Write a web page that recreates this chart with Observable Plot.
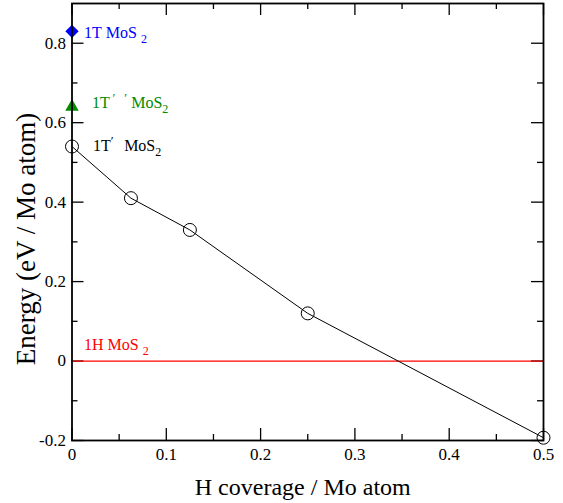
<!DOCTYPE html>
<html>
<head>
<meta charset="utf-8">
<script src="https://cdn.jsdelivr.net/npm/d3@7"></script>
<script src="https://cdn.jsdelivr.net/npm/@observablehq/plot@0.6"></script>
<style>
  html, body { margin: 0; padding: 0; background: #fff; }
  svg { display: block; }
</style>
</head>
<body>
<div id="chart"></div>
<script>
// ---- data ----
const coverage = [0, 0.0625, 0.125, 0.25, 0.5];
const energy = [0.54, 0.41, 0.33, 0.12, -0.193];

const phaseNames = ["1T", "1T''", "1T'", "1H"];
const phaseEnergy = [0.83, 0.64, 0.54, 0];
const phaseLabels = ["1T MoS _{2}", "1T^{\u2009′\u2002\u2009′} MoS_{2}", "1T^{′  } MoS_{2}", "1H MoS _{2}"];
const phaseColors = ["#0000ff", "#008b00", "#000000", "#ff0000"];

const xTicks = [0, 0.1, 0.2, 0.3, 0.4, 0.5];
const xMinor = [0.05, 0.15, 0.25, 0.35, 0.45];
const yTicks = [-0.2, 0, 0.2, 0.4, 0.6, 0.8];
const yMinor = [-0.1, 0.1, 0.3, 0.5, 0.7];
const xTitle = "H coverage / Mo atom";
const yTitle = "Energy (eV / Mo atom)";

// ---- layout ----
const W = 563, H = 503;
const mL = 71.5, mR = 20, mT = 3, mB = 63;
const pw = W - mL - mR, ph = H - mT - mB;
const major = 12, minor = 6;

const curve = coverage.map((c, i) => ({x: c, y: energy[i]}));
const phases = phaseNames.map((n, i) => ({name: n, y: phaseEnergy[i], label: phaseLabels[i], color: phaseColors[i]}));
const fmt = d => String(d);

const labelOffsets = {
  "1T": {dx: 12, dy: 1.5},
  "1T''": {dx: 20, dy: -4},
  "1T'": {dx: 21, dy: -1},
  "1H": {dx: 12, dy: -16.5}
};

const marks = [
  // ticks, inward, on all four sides
  Plot.tickY(yTicks, {y: d => d, insetRight: pw - major, strokeWidth: 1.3}),
  Plot.tickY(yMinor, {y: d => d, insetRight: pw - minor, strokeWidth: 1.3}),
  Plot.tickY(yTicks, {y: d => d, insetLeft: pw - major, strokeWidth: 1.3}),
  Plot.tickY(yMinor, {y: d => d, insetLeft: pw - minor, strokeWidth: 1.3}),
  Plot.tickX(xTicks, {x: d => d, insetTop: ph - major, strokeWidth: 1.3}),
  Plot.tickX(xMinor, {x: d => d, insetTop: ph - minor, strokeWidth: 1.3}),
  Plot.tickX(xTicks, {x: d => d, insetBottom: ph - major, strokeWidth: 1.3}),
  Plot.tickX(xMinor, {x: d => d, insetBottom: ph - minor, strokeWidth: 1.3}),
  Plot.axisX({ticks: xTicks, tickSize: 0, tickPadding: 7, fontSize: 17, tickFormat: fmt, label: null}),
  Plot.axisY({ticks: yTicks, tickSize: 0, tickPadding: 6, fontSize: 17, tickFormat: fmt, label: null}),
  // 1H reference line
  Plot.ruleY([phases[3]], {y: "y", stroke: "color", strokeWidth: 1.2}),
  // curve
  Plot.line(curve, {x: "x", y: "y", stroke: "#000", strokeWidth: 1}),
  Plot.dot(curve, {x: "x", y: "y", r: 6.5, stroke: "#000", strokeWidth: 1, fill: "none"}),
  Plot.dot([phases[0]], {x: () => 0, y: "y", symbol: "diamond2", r: 6, fill: "color", stroke: "none"}),
  Plot.dot([phases[1]], {x: () => 0, y: "y", symbol: "triangle", r: 5, fill: "color", stroke: "none"}),
  ...phases.map(p => Plot.text([p], {
    x: () => 0, y: "y", text: "label", fill: "color",
    textAnchor: "start", lineAnchor: "middle", fontSize: 16,
    dx: labelOffsets[p.name].dx, dy: labelOffsets[p.name].dy,
    className: "lbl"
  })),
  Plot.frame({stroke: "#000", strokeWidth: 1.8}),
  Plot.text([xTitle], {frameAnchor: "bottom", textAnchor: "middle", dy: 47, dx: -5, fontSize: 24, lineAnchor: "middle"}),
  Plot.text([yTitle], {frameAnchor: "left", textAnchor: "middle", rotate: -90, dx: -45.5, dy: 17, fontSize: 27, lineAnchor: "middle"})
];

const chart = Plot.plot({
  width: W, height: H,
  marginLeft: mL, marginRight: mR, marginTop: mT, marginBottom: mB,
  x: {domain: [0, 0.5]},
  y: {domain: [-0.2, 0.9]},
  style: {fontFamily: "'Liberation Serif', 'Times New Roman', serif", background: "#fff", color: "#000", overflow: "visible"},
  marks
});

// rich text: _{..} subscript, ^{..} superscript (spaces kept as no-break spaces)
chart.querySelectorAll("g.lbl text").forEach(t => {
  const s = t.textContent;
  t.textContent = "";
  const re = /([_^])\{([^}]*)\}|([^_^]+)/g;
  let m, shift = 0;
  const NS = "http://www.w3.org/2000/svg";
  while ((m = re.exec(s))) {
    const ts = document.createElementNS(NS, "tspan");
    let target = 0, size = null, str;
    if (m[1] === "_") { target = 5; size = 12; str = m[2]; }
    else if (m[1] === "^") { target = -6; size = 13; str = m[2]; }
    else { str = m[3]; }
    ts.textContent = str.replace(/ /g, "\u00A0");
    if (target !== shift) { ts.setAttribute("dy", target - shift); shift = target; }
    if (size) ts.setAttribute("font-size", size);
    t.appendChild(ts);
  }
});

document.getElementById("chart").appendChild(chart);
</script>
</body>
</html>
